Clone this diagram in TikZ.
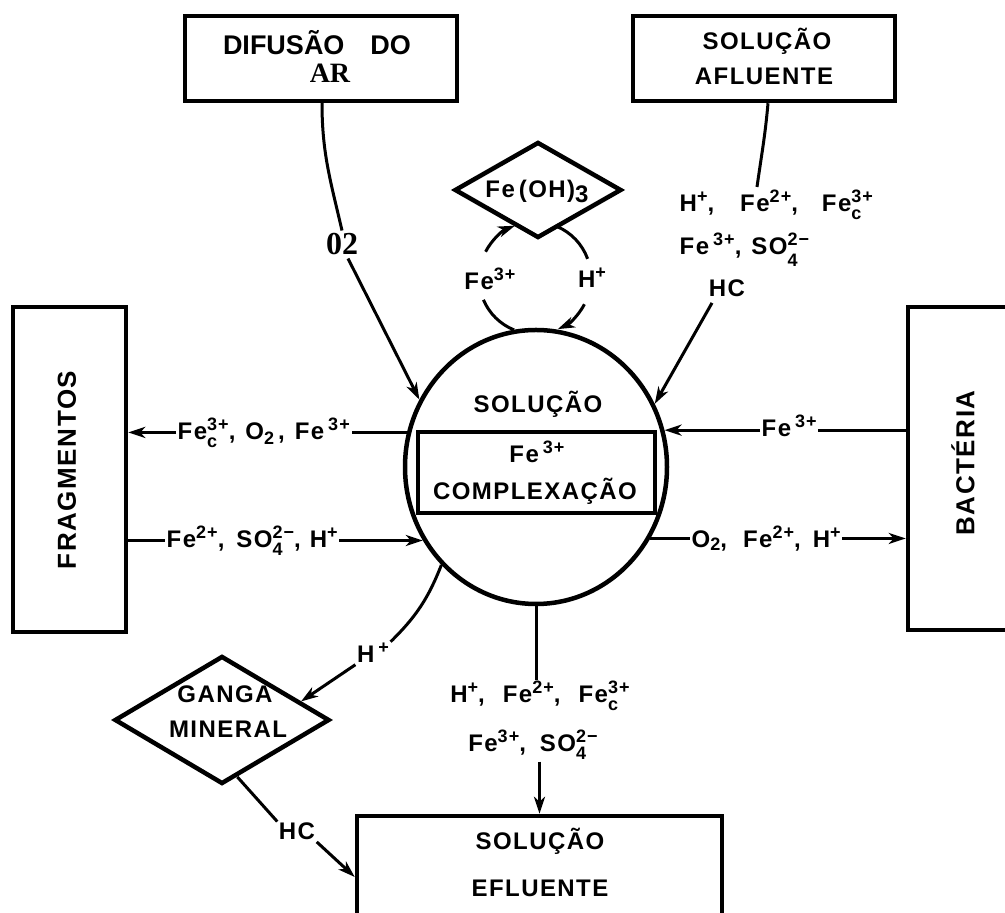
\documentclass[tikz,border=0pt]{standalone}
\usepackage{fontspec}
\usetikzlibrary{shapes.geometric,arrows.meta,calc}
\newfontfamily\lbfamily{Liberation Sans}[LetterSpace=6]
\newfontfamily\hvfamily{Liberation Sans}
\newfontfamily\srfamily{Liberation Serif}
\newcommand\mylbl{\lbfamily\bfseries\fontsize{24}{28}\selectfont}
\newcommand\mybig{\lbfamily\bfseries\fontsize{26}{30}\selectfont}
\newcommand\supfont{\fontsize{18}{20}\selectfont}
\newcommand\isup[1]{\raisebox{9pt}{\supfont #1}}
\newcommand\isub[2][-6pt]{\raisebox{#1}{\supfont #2}}
\newcommand\csep[1]{,\hspace{#1}}
\newsavebox\supbox
\newsavebox\subbox
\newcommand\isps[3][-6pt]{\sbox\supbox{\supfont #2}\sbox\subbox{\supfont #3}%
  \ifdim\wd\supbox>\wd\subbox
    \rlap{\raisebox{#1}{\usebox\subbox}}\raisebox{9pt}{\usebox\supbox}%
  \else
    \rlap{\raisebox{9pt}{\usebox\supbox}}\raisebox{#1}{\usebox\subbox}%
  \fi}
\begin{document}
\begin{tikzpicture}[x=1pt,y=1pt,
  box/.style={draw, line width=4.5pt, rectangle, inner sep=0pt},
  conn/.style={line width=3pt},
  arr/.style={conn, -{Stealth[length=17pt,width=11pt,inset=5pt]}},
  lbl/.style={font=\mylbl, inner sep=1.5pt},
  big/.style={font=\mybig, inner sep=3pt}]
\useasboundingbox (0,0) rectangle (1005,913);
% boxes
\node[box, minimum width=272pt, minimum height=85pt] (dif) at (321,854.5) {};
\node[box, minimum width=262pt, minimum height=85pt] (afl) at (764,854.5) {};
\node[box, minimum width=113pt, minimum height=325pt] (frag) at (69.5,443.5) {};
\node[box, minimum width=120pt, minimum height=323pt] (bact) at (968,444.5) {};
\node[box, minimum width=365pt, minimum height=114pt] (eff) at (539.5,40) {};
\node[draw, ellipse, line width=4.5pt, minimum width=262pt, minimum height=274pt, inner sep=0pt] (sol) at (536,446) {};
\node[box, minimum width=237pt, minimum height=81pt] (cpx) at (536.5,440.5) {};
\node[draw, diamond, line width=4.5pt, minimum width=167pt, minimum height=96pt, inner sep=0pt] (feoh) at (538,723) {};
\node[draw, diamond, line width=4.5pt, minimum width=215pt, minimum height=128pt, inner sep=0pt] (ganga) at (222,193) {};
% box texts
\node[anchor=base, inner sep=3pt, font=\hvfamily\bfseries\fontsize{27}{30}\selectfont] (diftxt) at (317,858) {DIFUSÃO\hspace{26pt}DO};
\node[anchor=base, inner sep=3pt, font=\srfamily\bfseries\fontsize{28}{30}\selectfont] (artxt) at (330,830) {AR};
\node[lbl, anchor=base] (afltxt1) at (767,863) {SOLUÇÃO};
\node[lbl, anchor=base] (afltxt2) at (764,828) {AFLUENTE};
\node[big, rotate=90] (fragtxt) at (67,443) {FRAGMENTOS};
\node[big, rotate=90] (bacttxt) at (963,450) {BACTÉRIA};
\node[lbl, anchor=base] (efftxt1) at (540,63) {SOLUÇÃO};
\node[lbl, anchor=base] (efftxt2) at (540,16) {EFLUENTE};
\node[lbl, anchor=base] (soltxt) at (538,500) {SOLUÇÃO};
\node[lbl, anchor=base] (cpx1) at (537,450) {Fe\,\isup{3+}};
\node[lbl, anchor=base] (cpx2) at (535,413) {COMPLEXAÇÃO};
\node[lbl, anchor=base] (feohtxt) at (537,715) {Fe\,(OH)\raisebox{-5pt}{3}};
\node[lbl, anchor=base] (g1) at (225,210) {GANGA};
\node[lbl, anchor=base] (g2) at (228,175) {MINERAL};
% labels
\node[anchor=base, inner sep=3pt, font=\srfamily\bfseries\fontsize{32}{34}\selectfont] (o2) at (342,658) {02};
\node[lbl, anchor=base] (hc1) at (727,616) {HC};
\node[lbl, anchor=base] (hc2) at (297,73) {HC};
\node[lbl, anchor=base] (cyc1) at (490,623) {Fe\isup{3+}};
\node[lbl, anchor=base] (cyc2) at (592,625) {H\isup{+}};
\node[lbl, anchor=base west] (afl1) at (678,701) {H\isup{+}\csep{26pt}Fe\isup{2+}\csep{24pt}Fe\isps[-8pt]{3+}{c}};
\node[lbl, anchor=base west] (afl2) at (678,658) {Fe\,\isup{3+}\csep{10pt}SO\isps[-12pt]{2−}{4}};
\node[lbl, anchor=base] (eff1) at (540,210) {H\isup{+}\csep{18pt}Fe\isup{2+}\csep{18pt}Fe\isps[-8pt]{3+}{c}};
\node[lbl, anchor=base] (eff2) at (533,161) {Fe\isup{3+}\csep{14pt}SO\isps[-8pt]{2−}{4}};
\node[lbl, anchor=base west] (lblA) at (176,473) {Fe\isps[-8pt]{3+}{c}\csep{10pt}O\isub[-5pt]{2}\hspace{4pt}\csep{10pt}Fe\,\isup{3+}};
\node[lbl, anchor=base west] (lblB) at (165,365) {Fe\isup{2+}\csep{12pt}SO\isps[-8pt]{2−}{4}\csep{9pt}H\isup{+}};
\node[lbl, anchor=base west] (lblC) at (760,476) {Fe\,\isup{3+}};
\node[lbl, anchor=base west] (lblD) at (690,365) {O\isub[-3pt]{2}\csep{16pt}Fe\isup{2+}\csep{12pt}H\isup{+}};
\node[lbl, anchor=base] (hgan) at (373,250) {H\,\isup{+}};
% coordinates
\coordinate (cyc) at (535,635);
\coordinate (aflend) at (757,726);
\coordinate (gtip) at ($(ganga.north)!0.72!(ganga.east)$);
\coordinate (gout) at ($(ganga.south)!0.14!(ganga.east)$);
% connectors
\draw[conn] ($(dif.south)+(1,0)$) to[out=-90, in=103] (o2.north);
\draw[arr] ($(o2.south)+(6,0)$) -- (sol.150);
\draw[conn] ($(afl.south)+(4,0)$) to[out=-95, in=82] (aflend);
\draw[arr] ($(hc1.south)+(-15,-4)$) -- (sol.28);
\draw[conn] (sol.165) -- (sol.165 -| lblA.east);
\draw[arr] (lblA.west |- sol.165) -- (frag.east |- sol.165);
\draw[conn] (frag.east |- sol.213) -- (lblB.west |- sol.213);
\draw[arr] (lblB.east |- sol.213) -- (sol.213);
\draw[conn] (bact.west |- sol.16) -- (lblC.east |- sol.16);
\draw[arr] (lblC.west |- sol.16) -- (sol.16);
\draw[conn] (sol.-32) -- (lblD.west |- sol.-32);
\draw[arr] (lblD.east |- sol.-32) -- (bact.west |- sol.-32);
\draw[conn] (sol.226) to[bend left=12] (hgan.north east);
\draw[arr] (hgan.south west) -- (gtip);
\draw[conn] (gout) -- (hc2.north west);
\draw[arr] (hc2.south east) -- ([yshift=-4pt]eff.west);
\draw[conn] (sol.south) -- (sol.south |- eff1.north);
\draw[arr] (eff.north |- eff2.south) -- (eff.north);
% Fe(OH)3 cycle
\draw[arr] ($(cyc)+(152:56)$) arc[start angle=152, end angle=111, radius=56];
\draw[conn] ($(cyc)+(67:56)$) arc[start angle=67, end angle=20, radius=56];
\draw[conn] ($(cyc)+(203:56)$) arc[start angle=203, end angle=248, radius=56];
\draw[arr] ($(cyc)+(-28:56)$) arc[start angle=-28, end angle=-66, radius=56];
\end{tikzpicture}
\end{document}
